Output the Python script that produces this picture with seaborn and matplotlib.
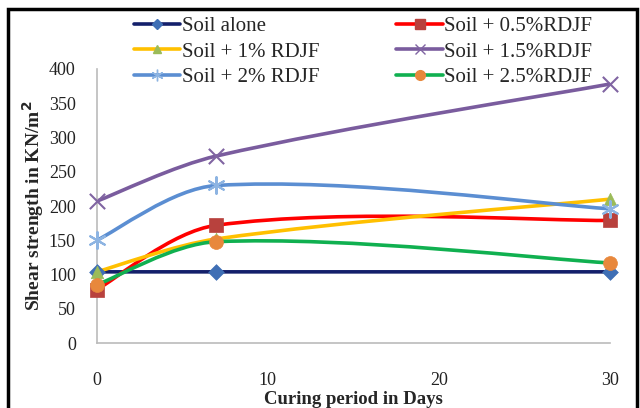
import matplotlib
matplotlib.use("Agg")
import matplotlib.pyplot as plt
import seaborn as sns
import numpy as np
import pandas as pd
from matplotlib.path import Path
from matplotlib.patches import PathPatch, Rectangle
from matplotlib.lines import Line2D

# data
days = [0, 7, 30]
soil_alone = [104, 104, 104]
rdjf_05 = [78, 172, 179]
rdjf_1 = [104, 152, 210]
rdjf_15 = [207, 273, 378]
rdjf_2 = [150, 230, 196]
rdjf_25 = [85, 148, 117]

labels = ["Soil alone", "Soil + 0.5%RDJF", "Soil + 1% RDJF",
          "Soil + 1.5%RDJF", "Soil + 2% RDJF", "Soil + 2.5%RDJF"]
series = [soil_alone, rdjf_05, rdjf_1, rdjf_15, rdjf_2, rdjf_25]

line_colors = ["#14206B", "#FF0000", "#FFC000", "#7A5C9E", "#5B8ED2", "#10B050"]
marker_face = ["#3F6FB5", "#B8413D", "#9BBB59", "#8064A2", "#8DB4E2", "#E8883C"]
markers = ["D", "s", "^", "x", (6, 2, 0), "o"]
msizes = [8, 10, 9, 11, 12, 10]

sns.set_theme(style="white")
plt.rcParams["font.family"] = ["Liberation Serif", "DejaVu Serif"]


def smooth_path(ax, xs, ys):
    # Excel-style smoothed line: bezier segments worked out in screen space,
    # then mapped back to data coordinates
    pts = ax.transData.transform(np.column_stack([xs, ys]).astype(float))
    n = len(pts)
    dirs = []
    for i in range(n):
        d = pts[min(i + 1, n - 1)] - pts[max(i - 1, 0)]
        dirs.append(d / np.hypot(*d))
    verts = [pts[0]]
    codes = [Path.MOVETO]
    for i in range(n - 1):
        seg = np.hypot(*(pts[i + 1] - pts[i]))
        k1 = seg / 6 if i == 0 else seg / 3
        k2 = seg / 6 if i + 1 == n - 1 else seg / 3
        verts += [pts[i] + dirs[i] * k1, pts[i + 1] - dirs[i + 1] * k2, pts[i + 1]]
        codes += [Path.CURVE4] * 3
    verts = ax.transData.inverted().transform(np.array(verts))
    return Path(verts, codes)


fig = plt.figure(figsize=(6.4, 4.08), dpi=100)
ax = fig.add_axes([0.151, 0.159, 0.802, 0.672])
ax.set_xlim(0, 30)
ax.set_ylim(0, 400)

handles = []
for ys, lab, lc, mf, mk, ms in zip(series, labels, line_colors, marker_face, markers, msizes):
    ax.add_patch(PathPatch(smooth_path(ax, days, ys), facecolor="none", edgecolor=lc,
                           lw=2.6, clip_on=False, zorder=2))
    df = pd.DataFrame({"day": days, "val": ys})
    line_marker = mk == "x" or isinstance(mk, tuple)
    sns.scatterplot(data=df, x="day", y="val", ax=ax, marker=mk, s=ms ** 2,
                    color=mf, edgecolor=mf,
                    linewidth=1.5 if line_marker else 0.5, clip_on=False, zorder=3)
    handles.append(Line2D([0], [0], color=lc, lw=2.6, marker=mk, markersize=ms * 0.7,
                          markerfacecolor=mf, markeredgecolor=mf))

ax.set_xlim(0, 30)
ax.set_ylim(0, 400)
ax.set_xticks([0, 10, 20, 30])
ax.set_yticks(range(0, 401, 50))
ax.tick_params(axis="x", pad=21, labelsize=13, length=0, labelcolor="#222222")
ax.tick_params(axis="y", pad=15, labelsize=13, length=0, labelcolor="#222222")

ax.set_xlabel("Curing period in Days", fontsize=13.5, fontweight="bold", labelpad=1)
ax.set_ylabel("Shear strength in KN/m$^\\mathbf{2}$", fontsize=14, fontweight="bold", labelpad=2)
for s in ["top", "right"]:
    ax.spines[s].set_visible(False)
for s in ["left", "bottom"]:
    ax.spines[s].set_color("#BBBBBB")
    ax.spines[s].set_linewidth(1.2)

# legend filled row by row like the original
order = [0, 2, 4, 1, 3, 5]
fig.legend(handles=[handles[i] for i in order], labels=[labels[i] for i in order],
           ncol=2, loc="upper left", bbox_to_anchor=(0.186, 0.995), frameon=False,
           handlelength=2.25, handletextpad=0.05, columnspacing=3.7,
           labelspacing=0.28, borderpad=0.2, prop={"size": 15})

# outer chart frame
fig.patches.append(Rectangle((0.012, -0.02), 0.984, 0.998, transform=fig.transFigure,
                             fill=False, edgecolor="black", lw=2.5))

fig.savefig("out.png", dpi=100)
